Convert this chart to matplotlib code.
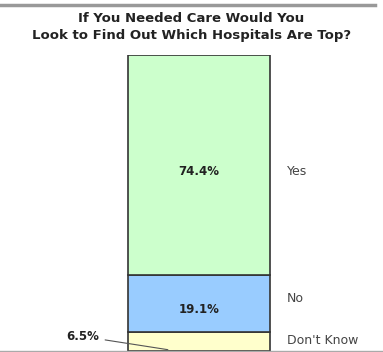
import matplotlib.pyplot as plt
from matplotlib.lines import Line2D

# data
categories = ["Yes", "No", "Don't Know"]
values = [74.4, 19.1, 6.5]
colors = ["#ccffcc", "#99ccff", "#ffffcc"]

W, H = 383, 352
fig = plt.figure(figsize=(W / 100, H / 100), dpi=100)

# axes covering plot area: bar top at y=55px, bottom at y=351px
ax = fig.add_axes([0, 1 / H, 1, (351 - 55) / H])
ax.set_xlim(-0.5 - 128 / 142, 0.5 + 113 / 142)
ax.set_ylim(0, sum(values))
ax.axis("off")

# stacked bar, drawn bottom-up: Don't Know, No, Yes
bottom = 0
for val, col in zip(reversed(values), reversed(colors)):
    ax.bar(0, val, width=1, bottom=bottom, color=col, edgecolor="#333333", linewidth=1.2)
    bottom += val

font = dict(family="DejaVu Sans", fontsize=8.5)
ax.text(0, 60.5, f"{values[0]}%", ha="center", va="center", fontweight="bold", color="#222222", **font)
ax.text(0, 13.9, f"{values[1]}%", ha="center", va="center", fontweight="bold", color="#222222", **font)

# category labels at right
lab = dict(family="DejaVu Sans", fontsize=9, color="#444444", ha="left", va="center")
ax.text(0.62, 60.5, categories[0], **lab)
ax.text(0.62, 17.9, categories[1], **lab)
ax.text(0.62, 3.7, categories[2], **lab)

# small slice label with leader line
ax.annotate(f"{values[2]}%", xy=(-0.2, 0.3), xytext=(-0.7, 4.9),
            ha="right", va="center", fontweight="bold", color="#222222",
            arrowprops=dict(arrowstyle="-", color="#555555", lw=0.8), **font)

# title
tfont = dict(ha="center", va="center", fontsize=9.5, fontweight="bold", color="#222222")
fig.text(0.5, 1 - 18 / H, "If You Needed Care Would You", **tfont)
fig.text(0.5, 1 - 35 / H, "Look to Find Out Which Hospitals Are Top?", **tfont)

# frame lines
fig.add_artist(Line2D([0, 0.98], [1 - 4.5 / H, 1 - 4.5 / H], color="#999999", lw=2.5))
fig.add_artist(Line2D([0, 1], [1 - 350.5 / H, 1 - 350.5 / H], color="#aaaaaa", lw=1))

fig.savefig("out.png", dpi=100)
